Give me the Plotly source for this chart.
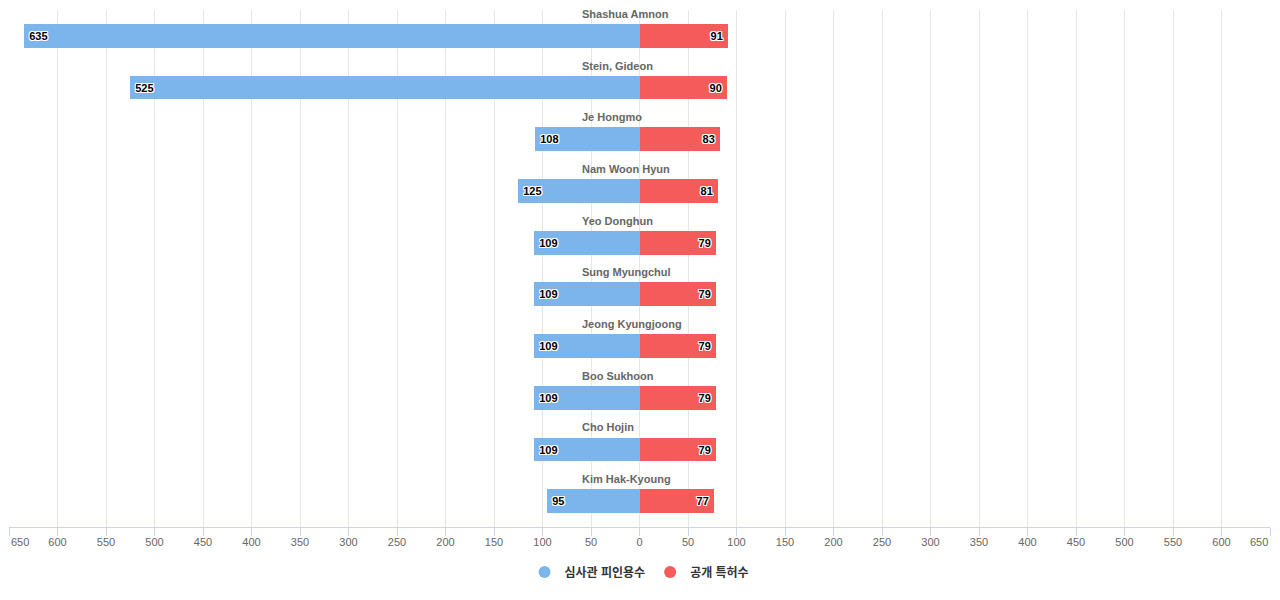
import plotly.graph_objects as go

names = ["Shashua Amnon", "Stein, Gideon", "Je Hongmo", "Nam Woon Hyun", "Yeo Donghun",
         "Sung Myungchul", "Jeong Kyungjoong", "Boo Sukhoon", "Cho Hojin", "Kim Hak-Kyoung"]
examiner = [635, 525, 108, 125, 109, 109, 109, 109, 109, 95]
published = [91, 90, 83, 81, 79, 79, 79, 79, 79, 77]
series_names = ["심사관 피인용수", "공개 특허수"]
colors = ["#7cb5ec", "#f45b5b"]
tick_vals = list(range(-650, 651, 50))

FONT = "Liberation Sans, Arial, Noto Sans CJK KR, sans-serif"
outline = "1px 1px 0 #fff, -1px -1px 0 #fff, 1px -1px 0 #fff, -1px 1px 0 #fff, 0 1px 0 #fff, 0 -1px 0 #fff, 1px 0 0 #fff, -1px 0 0 #fff"
PAD = "\u2009"

fig = go.Figure()
fig.add_trace(go.Bar(
    y=names, x=[-v for v in examiner], orientation="h", name=series_names[0],
    marker=dict(color=colors[0], line=dict(width=0)), width=0.46,
    text=[PAD + str(v) for v in examiner], textposition="inside", insidetextanchor="end",
    textangle=0, constraintext="none",
    insidetextfont=dict(family=FONT, size=11, color="#000", weight="bold", shadow=outline),
    showlegend=False, hoverinfo="skip"))
fig.add_trace(go.Bar(
    y=names, x=published, orientation="h", name=series_names[1],
    marker=dict(color=colors[1], line=dict(width=0)), width=0.46,
    text=[str(v) + PAD for v in published], textposition="inside", insidetextanchor="end",
    textangle=0, constraintext="none",
    insidetextfont=dict(family=FONT, size=11, color="#000", weight="bold", shadow=outline),
    showlegend=False, hoverinfo="skip"))

for nm, c in zip(series_names, colors):
    fig.add_trace(go.Scatter(x=[None], y=[None], mode="markers", name=nm,
                             marker=dict(symbol="circle", size=12, color=c)))

annotations = []
for n in names:
    annotations.append(dict(x=-61, y=n, xref="x", yref="y", text=n, showarrow=False,
                            xanchor="left", yanchor="middle", yshift=22,
                            font=dict(family=FONT, size=11, color="#666", weight="bold")))
for v, anchor in [(-650, "left"), (650, "right")]:
    annotations.append(dict(x=v, y=0, xref="x", yref="paper", text=str(abs(v)), showarrow=False,
                            xanchor=anchor, yanchor="middle", yshift=-15,
                            font=dict(family=FONT, size=11, color="#666")))

# page body has an 8px default margin; figure sized so that it ends at the viewport edge
fig.update_layout(
    width=1272, height=592,
    margin=dict(l=1, r=10, t=2, b=73),
    paper_bgcolor="#fff", plot_bgcolor="#fff",
    barmode="relative", bargap=0,
    font=dict(family=FONT, color="#666"),
    xaxis=dict(range=[-650, 650], tickvals=tick_vals,
               ticktext=["" if abs(v) == 650 else str(abs(v)) for v in tick_vals],
               showgrid=True, gridcolor="#e6e6e6", gridwidth=1,
               zeroline=False, showline=True, linecolor="#ccd6eb", linewidth=1,
               ticks="outside", ticklen=8, tickcolor="#ccd6eb", ticklabelstandoff=-3,
               tickfont=dict(family=FONT, size=11, color="#666"), fixedrange=True,
               automargin=False),
    yaxis=dict(range=[len(names) - 0.5, -0.5], showticklabels=False, showgrid=False,
               zeroline=False, showline=False, fixedrange=True, automargin=False),
    legend=dict(orientation="h", x=0.5, xanchor="center", y=-0.059, yanchor="top",
                font=dict(family=FONT, size=12, color="#333", weight="bold"),
                itemsizing="constant"),
    annotations=annotations,
)

fig.write_html("out.html")
